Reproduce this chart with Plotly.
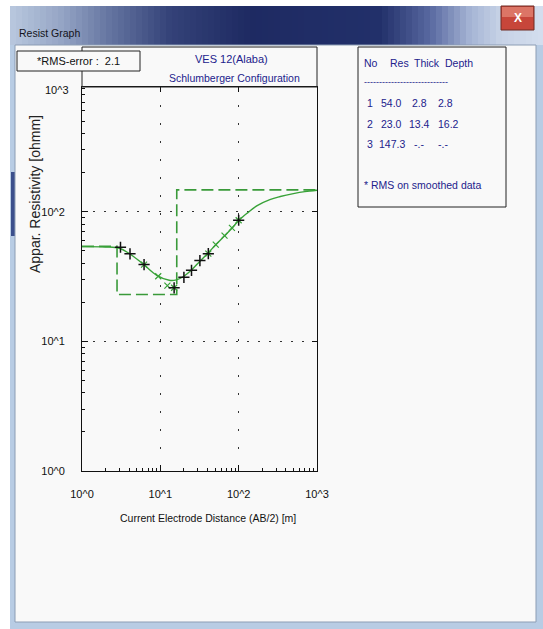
import plotly.graph_objects as go

# ---------------- data ----------------
ab2_obs = [3.1, 4.1, 6.2, 15, 20, 25, 32, 41, 100]
rho_obs = [53.2, 47.3, 39.1, 25.9, 31.2, 35.3, 42.0, 47.5, 85.9]

ab2_calc = [6.2, 9.4, 12.3, 15, 41, 51, 66, 82, 100]
rho_calc = [39.1, 31.8, 26.9, 25.9, 47.5, 55.7, 65.4, 75.0, 85.9]

ab2_curve = [1, 2, 3, 4, 6, 9, 13, 16, 20, 25, 32, 41, 51, 66, 82, 100, 130, 170, 250, 340, 500, 700, 1000]
rho_curve = [53.8, 53.5, 52.3, 47.6, 39.6, 32.3, 29.6, 29.8, 31.8, 35.5, 41.5, 48.3, 55.6, 65.2, 74.6,
             85.5, 98, 111, 124, 131, 138, 143, 146.5]

layer_no = [1, 2, 3]
layer_res = [54.0, 23.0, 147.3]
layer_thick = [2.8, 13.4]
layer_depth = [2.8, 16.2]
rms_error = 2.1

tick_vals = [1, 10, 100, 1000]
tick_text = ["10^0", "10^1", "10^2", "10^3"]
minor_vals = [m * d for d in (1, 10, 100) for m in range(2, 10)]

title_lines = ["VES 12(Alaba)", "Schlumberger Configuration"]
x_title = "Current Electrode Distance (AB/2) [m]"
y_title = "Appar. Resistivity [ohmm]"
window_title = "Resist Graph"

# ---------------- geometry helpers (pixel -> paper) ----------------
FW, FH = 543, 629
L, R, T, B = 82, 317, 87, 471
W, H = R - L, B - T


def px(x):
    return (x - L) / W


def py(y):
    return (B - y) / H


FONT = "Liberation Sans, Arial, sans-serif"
GREEN = "#38a238"
NAVY = "#22228c"

fig = go.Figure()

# model (dashed step) built from the layer table
x_model = [1] + layer_depth + [1000]
y_model = layer_res + [layer_res[-1]]
fig.add_trace(go.Scatter(x=x_model, y=y_model, mode="lines", line_shape="hv",
                         line=dict(color="#3a9a3a", width=1.6, dash="12px,5px"),
                         showlegend=False, hoverinfo="skip"))
# calculated curve
fig.add_trace(go.Scatter(x=ab2_curve, y=rho_curve, mode="lines", line_shape="spline",
                         line=dict(color=GREEN, width=1.4), showlegend=False, hoverinfo="skip"))
# calculated points (green x)
fig.add_trace(go.Scatter(x=ab2_calc, y=rho_calc, mode="markers",
                         marker=dict(symbol="x-thin", size=6, line=dict(color=GREEN, width=1.2)),
                         showlegend=False, hoverinfo="skip"))
# observed (black +)
fig.add_trace(go.Scatter(x=ab2_obs, y=rho_obs, mode="markers",
                         marker=dict(symbol="cross-thin", size=8, line=dict(color="#111111", width=1.5)),
                         showlegend=False, hoverinfo="skip"))
# dummy trace for overlay axes (top/right major ticks)
fig.add_trace(go.Scatter(x=[None], y=[None], xaxis="x2", yaxis="y2", showlegend=False, hoverinfo="skip"))

shapes = []
# window frame
shapes.append(dict(type="rect", xref="paper", yref="paper", x0=px(10), x1=px(543), y0=py(629), y1=py(6),
                   fillcolor="#b8cce4", line=dict(width=0), layer="below"))
# title bar gradient
stops = [(10, (185, 200, 222)), (60, (150, 166, 198)), (110, (100, 116, 160)), (170, (52, 66, 120)),
         (250, (30, 42, 98)), (380, (34, 48, 106)), (430, (88, 104, 160)), (470, (165, 180, 212)),
         (500, (198, 210, 230)), (543, (212, 222, 238))]


def col_at(x):
    for (x0, c0), (x1, c1) in zip(stops[:-1], stops[1:]):
        if x0 <= x <= x1:
            t = (x - x0) / (x1 - x0)
            return tuple(int(round(a + (b - a) * t)) for a, b in zip(c0, c1))
    return stops[-1][1]


step = 6
for xx in range(10, 543, step):
    c = col_at(xx + step / 2)
    shapes.append(dict(type="rect", xref="paper", yref="paper", x0=px(xx), x1=px(min(xx + step + 0.5, 543)),
                       y0=py(45), y1=py(6), fillcolor="rgb(%d,%d,%d)" % c, line=dict(width=0), layer="below"))
# left dark reflection
shapes.append(dict(type="rect", xref="paper", yref="paper", x0=px(11), x1=px(16), y0=py(236), y1=py(172),
                   fillcolor="#3b4f8c", line=dict(width=0), layer="below"))
# client area
shapes.append(dict(type="rect", xref="paper", yref="paper", x0=px(15), x1=px(536), y0=py(622), y1=py(45),
                   fillcolor="#f9f9f9", line=dict(color="#8c9db4", width=1), layer="below"))
# close button
shapes.append(dict(type="rect", xref="paper", yref="paper", x0=px(501), x1=px(534), y0=py(30), y1=py(6),
                   fillcolor="#c7463a", line=dict(color="#6e2a22", width=1), layer="below"))
shapes.append(dict(type="rect", xref="paper", yref="paper", x0=px(502), x1=px(533), y0=py(17), y1=py(7),
                   fillcolor="#dc7566", line=dict(width=0), layer="below"))
# title box (above plot)
shapes.append(dict(type="rect", xref="paper", yref="paper", x0=px(82), x1=px(317), y0=py(87), y1=py(47),
                   fillcolor="rgba(0,0,0,0)", line=dict(color="#222222", width=1), layer="above"))
# RMS box
shapes.append(dict(type="rect", xref="paper", yref="paper", x0=px(17), x1=px(140), y0=py(71), y1=py(51),
                   fillcolor="#f9f9f9", line=dict(color="#222222", width=1), layer="above"))
# table box
shapes.append(dict(type="rect", xref="paper", yref="paper", x0=px(358), x1=px(506), y0=py(207), y1=py(47),
                   fillcolor="#f9f9f9", line=dict(color="#222222", width=1), layer="above"))

ann = []


def text(x, y, s, size=10, color="#111111", family=FONT, xanchor="center", **kw):
    ann.append(dict(xref="paper", yref="paper", x=px(x), y=py(y), text=s, showarrow=False,
                    xanchor=xanchor, yanchor="middle", font=dict(size=size, color=color, family=family), **kw))


text(17, 33, window_title, size=10.5, color="#141420", xanchor="left")
text(518, 18, "<b>X</b>", size=12, color="white")
text(78, 61, "*RMS-error :  %.1f" % rms_error, size=11)
text(231, 59, title_lines[0], size=11, color=NAVY)
text(234, 78, title_lines[1], size=10.5, color=NAVY)
text(57, 90, tick_text[3], size=11)
text(208, 518, x_title, size=10.5)
text(35, 194, y_title, size=14, color="#222222", textangle=-90)

# table
TS = 10.5
text(362, 63, "No", size=TS, color=NAVY, xanchor="left")
text(388, 63, "Res", size=TS, color=NAVY, xanchor="left")
text(412, 63, "Thick", size=TS, color=NAVY, xanchor="left")
text(443, 63, "Depth", size=TS, color=NAVY, xanchor="left")
text(362, 82, "-" * 28, size=9, color=NAVY, xanchor="left")
row_y = [103, 124, 144]
for i, n in enumerate(layer_no):
    thick = "%.1f" % layer_thick[i] if i < len(layer_thick) else "-.-"
    depth = "%.1f" % layer_depth[i] if i < len(layer_depth) else "-.-"
    text(365, row_y[i], str(n), size=TS, color=NAVY, xanchor="left")
    text(377 if layer_res[i] >= 100 else 379, row_y[i], "%.1f" % layer_res[i], size=TS, color=NAVY,
         xanchor="left")
    text(419, row_y[i], thick, size=TS, color=NAVY)
    text(436, row_y[i], depth, size=TS, color=NAVY, xanchor="left")
text(362, 185, "* RMS on smoothed data", size=TS, color=NAVY, xanchor="left")

ymax = 2.962
tickfont = dict(family=FONT, size=11, color="#111111")
fig.update_layout(
    width=FW, height=FH,
    margin=dict(l=L, r=FW - R, t=T, b=FH - B, pad=0),
    paper_bgcolor="white", plot_bgcolor="rgba(0,0,0,0)",
    shapes=shapes, annotations=ann, showlegend=False,
    xaxis=dict(type="log", range=[0, 3], showline=True, mirror=True, linecolor="#111111", linewidth=1,
               tickvals=tick_vals, ticktext=tick_text, ticks="inside", ticklen=6, tickcolor="#111111",
               tickfont=tickfont, ticklabelstandoff=13,
               showgrid=True, gridcolor="#333333", gridwidth=1, griddash="1.5px,16.5px", zeroline=False,
               minor=dict(tickvals=minor_vals, ticks="inside", ticklen=3, tickcolor="#111111", showgrid=False),
               fixedrange=True),
    yaxis=dict(type="log", range=[0, ymax], showline=True, mirror=True, linecolor="#111111", linewidth=1,
               tickvals=tick_vals[:3], ticktext=tick_text[:3], ticks="inside", ticklen=6, tickcolor="#111111",
               tickfont=tickfont, ticklabelstandoff=14,
               showgrid=True, gridcolor="#333333", gridwidth=1, griddash="1.5px,9.5px", zeroline=False,
               minor=dict(tickvals=[v for v in minor_vals if v < 10 ** ymax], ticks="inside", ticklen=3,
                          tickcolor="#111111", showgrid=False),
               fixedrange=True),
    xaxis2=dict(type="log", range=[0, 3], overlaying="x", side="top", anchor="y2", tickvals=[10, 100],
                ticks="inside", ticklen=5, tickcolor="#111111", showticklabels=False, showgrid=False,
                showline=False, zeroline=False, fixedrange=True),
    yaxis2=dict(type="log", range=[0, ymax], overlaying="y", side="right", anchor="x2", tickvals=[10, 100],
                ticks="inside", ticklen=5, tickcolor="#111111", showticklabels=False, showgrid=False,
                showline=False, zeroline=False, fixedrange=True),
)

fig.write_html("out.html", config={"displayModeBar": False},
               post_script="document.body.style.margin='0px';document.body.style.overflow='hidden';")
